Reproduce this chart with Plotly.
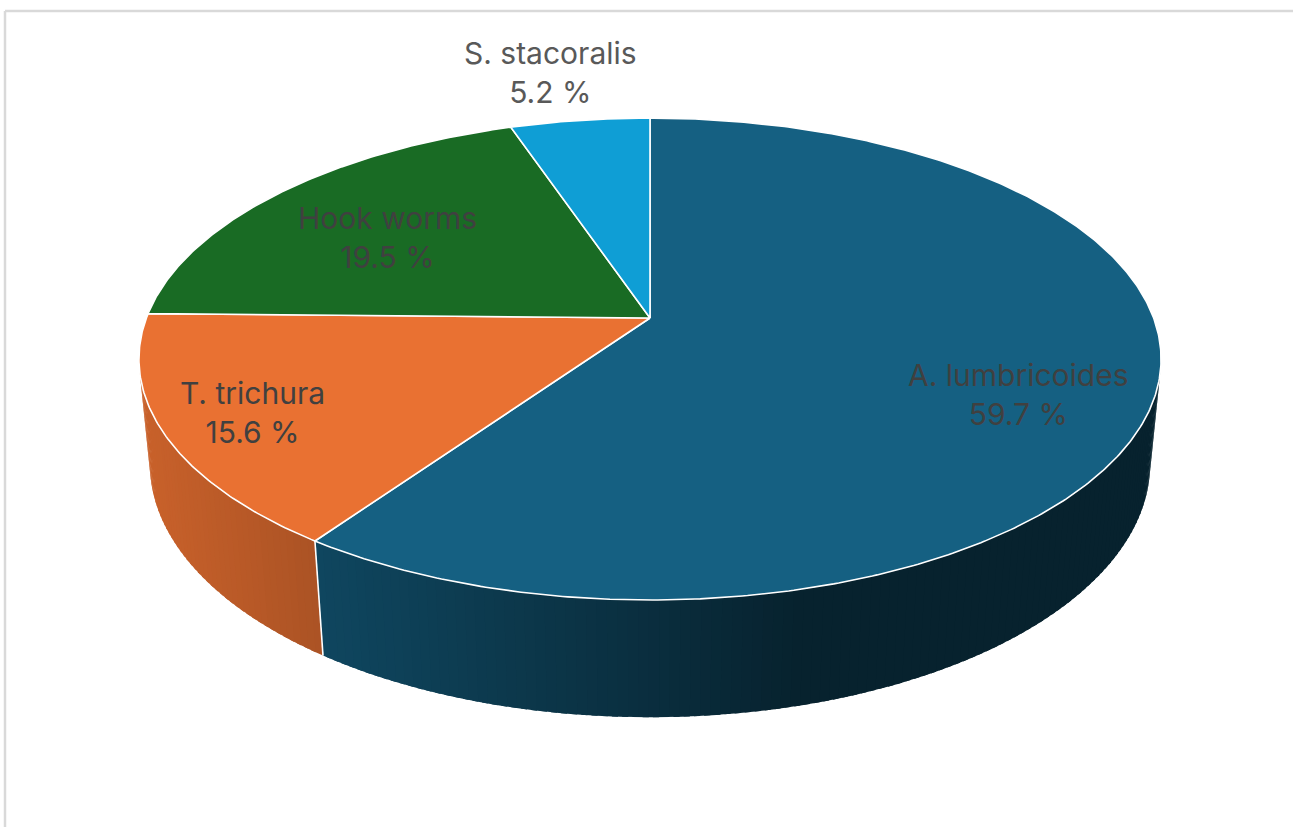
import numpy as np
import plotly.graph_objects as go

# ---- data -------------------------------------------------------------
species = ["A. lumbricoides", "T. trichura", "Hook worms", "S. stacoralis"]
percent = [59.7, 15.6, 19.5, 5.2]
slice_colors = ["#156082", "#E97132", "#196B24", "#0F9ED5"]

# ---- canvas / 3-D pie geometry (pixel space) ---------------------------
W, H = 1293, 827
CX, CY = 650.0, 318.0          # screen position of the pie centre
SCALE = 503.6                  # radius in pixels before perspective
TILT = np.arcsin(0.4646)       # elevation of the viewer
DIST = 5.2                     # camera distance (in radii)
DEPTH = 0.237                  # pie thickness (in radii)


def project(theta_deg, r=1.0, y=0.0):
    """Project a point of the pie (angle clockwise from 12 o'clock) to screen."""
    th = np.radians(theta_deg)
    x = r * np.sin(th)
    z = -r * np.cos(th)
    yc = y * np.cos(TILT) - z * np.sin(TILT)
    dc = y * np.sin(TILT) + z * np.cos(TILT)
    s = DIST / (DIST - dc)
    return CX + SCALE * x * s, CY - SCALE * yc * s


def hex_rgb(h):
    h = h.lstrip("#")
    return tuple(int(h[i:i + 2], 16) for i in (0, 2, 4))


def shade(color, theta_deg):
    """Darken a side wall according to a light coming from the left-front."""
    th = np.radians(theta_deg)
    n = np.array([np.sin(th), 0.0, -np.cos(th)])
    light = np.array([-0.97, 0.0, 0.243])
    f = 0.36 + 0.5 * max(0.0, float(n @ light))
    r, g, b = hex_rgb(color)
    return f"rgb({int(r * f)},{int(g * f)},{int(b * f)})"


# slice angles (Excel style: start at 12 o'clock, clockwise)
total = sum(percent)
ends = np.cumsum([p / total * 360.0 for p in percent])
starts = np.concatenate([[0.0], ends[:-1]])

# visible part of the outer wall
lim = np.degrees(np.arccos(-1.0 / (DIST * np.cos(TILT))))
vis_lo, vis_hi = lim, 360.0 - lim

fig = go.Figure()

# ---- outer wall, drawn as thin overlapping shaded strips ---------------
STEP = 1.0
for i in range(len(species)):
    a0, a1 = max(starts[i], vis_lo), min(ends[i], vis_hi)
    if a0 >= a1:
        continue
    n = int(np.ceil((a1 - a0) / STEP))
    edges = np.linspace(a0, a1, n + 1)
    for t0, t1 in zip(edges[:-1], edges[1:]):
        t1x = min(t1 + 0.6 * STEP, a1)          # overlap hides hairline gaps
        seg = np.linspace(t0, t1x, 4)
        xt, yt = project(seg)
        xb, yb = project(seg[::-1], y=-DEPTH)
        c = shade(slice_colors[i], 0.5 * (t0 + t1))
        fig.add_trace(go.Scatter(
            x=np.concatenate([xt, xb, xt[:1]]),
            y=np.concatenate([yt, yb, yt[:1]]),
            mode="lines", fill="toself", fillcolor=c,
            line=dict(width=0),
            hoverinfo="skip", showlegend=False))

# seam between wall segments
for b in ends[:-1]:
    if vis_lo < b < vis_hi:
        xt, yt = project(b)
        xb, yb = project(b, y=-DEPTH)
        fig.add_trace(go.Scatter(
            x=[xt, xb], y=[yt, yb], mode="lines",
            line=dict(color="white", width=1.6),
            hoverinfo="skip", showlegend=False))

# ---- top face ----------------------------------------------------------
for i, name in enumerate(species):
    arc = np.linspace(starts[i], ends[i], max(8, int((ends[i] - starts[i]) * 2)))
    ax, ay = project(arc)
    xs = np.concatenate([[CX], ax, [CX]])
    ys = np.concatenate([[CY], ay, [CY]])
    fig.add_trace(go.Scatter(
        x=xs, y=ys, mode="lines", fill="toself",
        fillcolor=slice_colors[i], line=dict(color="white", width=1.6),
        name=name, hoverinfo="skip", showlegend=False))

# ---- data labels ---------------------------------------------------------
# (angle shift from the slice middle, radius, text colour)
label_place = [(6.7, 0.76, "#404040"), (0.0, 0.83, "#404040"),
               (-2.6, 0.665, "#404040"), (-1.3, 1.30, "#595959")]
for i, name in enumerate(species):
    shift, rad, col = label_place[i]
    mid = 0.5 * (starts[i] + ends[i]) + shift
    lx, ly = project(mid, r=rad)
    fig.add_annotation(
        x=float(lx), y=float(ly), xref="x", yref="y",
        text=f"{name}<br>{percent[i]:.1f} %", showarrow=False,
        font=dict(family="Inter", size=30, color=col),
        align="center", xanchor="center", yanchor="middle")

# chart-area frame
fig.add_shape(type="line", x0=5, y0=11, x1=W + 5, y1=11,
              line=dict(color="#D9D9D9", width=2.5), layer="below")
fig.add_shape(type="line", x0=5, y0=11, x1=5, y1=H + 5,
              line=dict(color="#D9D9D9", width=2.5), layer="below")

fig.update_layout(
    width=W, height=H, autosize=False,
    margin=dict(l=0, r=0, t=0, b=0),
    paper_bgcolor="white", plot_bgcolor="white",
    xaxis=dict(range=[0, W], visible=False, fixedrange=True),
    yaxis=dict(range=[H, 0], visible=False, fixedrange=True),
    showlegend=False,
)

fig.write_html("out.html")
